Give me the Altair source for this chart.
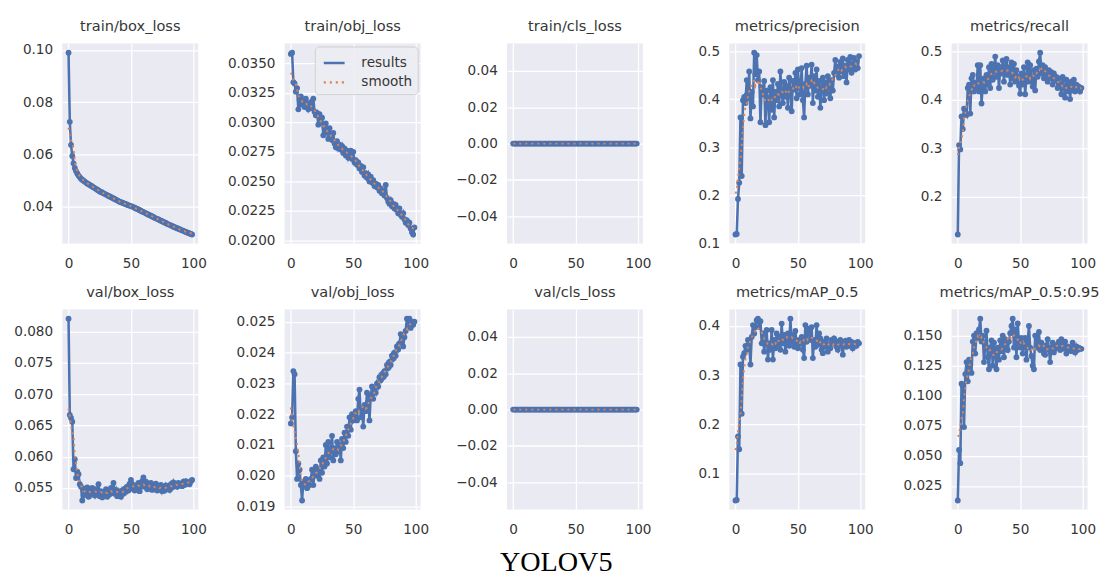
import altair as alt
import pandas as pd

# ---------------- data ----------------
epochs = list(range(100))

train_box_loss = [
    0.0990, 0.0725, 0.0636, 0.0594, 0.0566, 0.0548, 0.0536, 0.0527, 0.0519, 0.0513,
    0.0507, 0.0503, 0.0499, 0.0496, 0.0492, 0.0489, 0.0486, 0.0483, 0.0480, 0.0477,
    0.0474, 0.0471, 0.0468, 0.0465, 0.0462, 0.0458, 0.0456, 0.0454, 0.0451, 0.0449,
    0.0446, 0.0444, 0.0441, 0.0439, 0.0436, 0.0434, 0.0431, 0.0429, 0.0426, 0.0424,
    0.0421, 0.0419, 0.0417, 0.0415, 0.0413, 0.0411, 0.0409, 0.0407, 0.0405, 0.0404,
    0.0402, 0.0400, 0.0398, 0.0396, 0.0393, 0.0391, 0.0389, 0.0386, 0.0384, 0.0381,
    0.0379, 0.0377, 0.0374, 0.0372, 0.0369, 0.0367, 0.0365, 0.0362, 0.0360, 0.0357,
    0.0355, 0.0353, 0.0351, 0.0348, 0.0346, 0.0344, 0.0341, 0.0339, 0.0337, 0.0334,
    0.0332, 0.0330, 0.0328, 0.0326, 0.0323, 0.0321, 0.0319, 0.0317, 0.0315, 0.0313,
    0.0311, 0.0309, 0.0307, 0.0305, 0.0303, 0.0301, 0.0299, 0.0297, 0.0295, 0.0293,
]

train_obj_loss = [
    0.0358, 0.0359, 0.0334, 0.0333, 0.0326, 0.0329, 0.0311, 0.0319, 0.0322, 0.0315,
    0.0318, 0.0313, 0.0320, 0.0316, 0.0311, 0.0314, 0.0317, 0.0312, 0.0320, 0.0309,
    0.0306, 0.0308, 0.0298, 0.0307, 0.0300, 0.0304, 0.0289, 0.0296, 0.0299, 0.0292,
    0.0286, 0.0295, 0.0289, 0.0285, 0.0291, 0.0282, 0.0279, 0.0284, 0.0278, 0.0281,
    0.0277, 0.0280, 0.0274, 0.0278, 0.0272, 0.0276, 0.0270, 0.0273, 0.0276, 0.0269,
    0.0275, 0.0266, 0.0268, 0.0264, 0.0266, 0.0261, 0.0263, 0.0258, 0.0262, 0.0255,
    0.0257, 0.0253, 0.0256, 0.0250, 0.0254, 0.0249, 0.0251, 0.0246, 0.0248, 0.0245,
    0.0247, 0.0242, 0.0244, 0.0240, 0.0242, 0.0238, 0.0247, 0.0236, 0.0233, 0.0231,
    0.0234, 0.0229, 0.0231, 0.0227, 0.0230, 0.0226, 0.0223, 0.0227, 0.0222, 0.0220,
    0.0223, 0.0218, 0.0215, 0.0217, 0.0213, 0.0215, 0.0210, 0.0207, 0.0205, 0.0211,
]

train_cls_loss = [0.0] * 100

precision = [
    0.118, 0.119, 0.192, 0.226, 0.362, 0.240, 0.398, 0.405, 0.392, 0.440,
    0.402, 0.458, 0.360, 0.415, 0.385, 0.497, 0.452, 0.492, 0.440, 0.458,
    0.352, 0.425, 0.410, 0.438, 0.346, 0.418, 0.402, 0.352, 0.425, 0.378,
    0.440, 0.362, 0.415, 0.398, 0.432, 0.385, 0.458, 0.410, 0.392, 0.436,
    0.405, 0.428, 0.382, 0.445, 0.418, 0.375, 0.438, 0.420, 0.455, 0.402,
    0.462, 0.425, 0.410, 0.465, 0.398, 0.362, 0.432, 0.470, 0.410, 0.445,
    0.428, 0.472, 0.392, 0.448, 0.418, 0.462, 0.405, 0.438, 0.382, 0.425,
    0.445, 0.398, 0.435, 0.412, 0.448, 0.425, 0.402, 0.440, 0.418, 0.455,
    0.482, 0.452, 0.468, 0.445, 0.478, 0.458, 0.485, 0.448, 0.470, 0.435,
    0.482, 0.462, 0.488, 0.455, 0.472, 0.486, 0.462, 0.478, 0.465, 0.490,
]

recall = [
    0.122, 0.307, 0.298, 0.366, 0.340, 0.382, 0.374, 0.369, 0.425, 0.432,
    0.372, 0.445, 0.452, 0.418, 0.436, 0.425, 0.472, 0.418, 0.472, 0.393,
    0.428, 0.445, 0.418, 0.452, 0.432, 0.468, 0.425, 0.475, 0.442, 0.460,
    0.490, 0.448, 0.472, 0.425, 0.468, 0.455, 0.482, 0.438, 0.470, 0.485,
    0.452, 0.468, 0.432, 0.478, 0.445, 0.475, 0.438, 0.462, 0.448, 0.430,
    0.413, 0.455, 0.432, 0.468, 0.412, 0.448, 0.478, 0.438, 0.472, 0.442,
    0.428, 0.462, 0.420, 0.465, 0.448, 0.480, 0.498, 0.455, 0.472, 0.445,
    0.468, 0.452, 0.438, 0.462, 0.445, 0.458, 0.432, 0.455, 0.440, 0.448,
    0.425, 0.445, 0.432, 0.412, 0.448, 0.428, 0.405, 0.442, 0.418, 0.435,
    0.402, 0.438, 0.420, 0.442, 0.418, 0.432, 0.422, 0.428, 0.418, 0.425,
]

val_box_loss = [
    0.0821, 0.0667, 0.0662, 0.0656, 0.0580, 0.0596, 0.0566, 0.0576, 0.0572, 0.0556,
    0.0552, 0.0530, 0.0538, 0.0549, 0.0541, 0.0551, 0.0536, 0.0546, 0.0540, 0.0550,
    0.0543, 0.0538, 0.0548, 0.0541, 0.0556, 0.0537, 0.0545, 0.0535, 0.0543, 0.0539,
    0.0548, 0.0536, 0.0544, 0.0540, 0.0550, 0.0542, 0.0558, 0.0541, 0.0547, 0.0537,
    0.0545, 0.0540, 0.0536, 0.0546, 0.0541, 0.0549, 0.0544, 0.0552, 0.0546, 0.0557,
    0.0563, 0.0549, 0.0555, 0.0546, 0.0553, 0.0548, 0.0558, 0.0545, 0.0552, 0.0561,
    0.0567, 0.0552, 0.0560, 0.0548, 0.0556, 0.0550, 0.0558, 0.0547, 0.0554, 0.0549,
    0.0557, 0.0546, 0.0553, 0.0548, 0.0555, 0.0545, 0.0551, 0.0546, 0.0554, 0.0549,
    0.0552, 0.0547, 0.0556, 0.0551, 0.0559, 0.0553, 0.0557, 0.0552, 0.0558, 0.0554,
    0.0556, 0.0553, 0.0560, 0.0555, 0.0561, 0.0557, 0.0559, 0.0556, 0.0561, 0.0563,
]

val_obj_loss = [
    0.0217, 0.0219, 0.0234, 0.0233, 0.0208, 0.0199, 0.0204, 0.0202, 0.0197, 0.0192,
    0.0198, 0.0197, 0.0199, 0.0196, 0.0198, 0.0197, 0.0199, 0.0202, 0.0197, 0.0201,
    0.0203, 0.0200, 0.0202, 0.0199, 0.0205, 0.0201, 0.0206, 0.0203, 0.0210, 0.0204,
    0.0211, 0.0206, 0.0208, 0.0213, 0.0205, 0.0209, 0.0207, 0.0211, 0.0208, 0.0210,
    0.0205, 0.0212, 0.0209, 0.0214, 0.0211, 0.0216, 0.0213, 0.0219, 0.0215, 0.0220,
    0.0218, 0.0219, 0.0221, 0.0218, 0.0225, 0.0228, 0.0219, 0.0222, 0.0216, 0.0223,
    0.0221, 0.0227, 0.0224, 0.0218, 0.0226, 0.0229, 0.0225, 0.0228, 0.0227, 0.0230,
    0.0229, 0.0232, 0.0231, 0.0233, 0.0232, 0.0234, 0.0233, 0.0236, 0.0235, 0.0237,
    0.0236, 0.0239, 0.0238, 0.0240, 0.0239, 0.0242, 0.0241, 0.0243, 0.0246, 0.0244,
    0.0242, 0.0245, 0.0247, 0.0251, 0.0249, 0.0251, 0.0248, 0.0250, 0.0249, 0.0250,
]

val_cls_loss = [0.0] * 100

map_05 = [
    0.046, 0.047, 0.176, 0.150, 0.322, 0.222, 0.338, 0.345, 0.360, 0.352,
    0.372, 0.365, 0.322, 0.378, 0.402, 0.385, 0.398, 0.412, 0.415, 0.398,
    0.410, 0.365, 0.385, 0.348, 0.372, 0.392, 0.332, 0.365, 0.352, 0.392,
    0.332, 0.372, 0.355, 0.385, 0.362, 0.378, 0.352, 0.405, 0.365, 0.382,
    0.348, 0.375, 0.385, 0.360, 0.415, 0.368, 0.382, 0.358, 0.390, 0.362,
    0.355, 0.372, 0.365, 0.378, 0.352, 0.335, 0.402, 0.368, 0.395, 0.385,
    0.372, 0.398, 0.335, 0.372, 0.358, 0.402, 0.362, 0.385, 0.375, 0.352,
    0.345, 0.368, 0.358, 0.375, 0.348, 0.362, 0.355, 0.372, 0.365, 0.375,
    0.370, 0.358, 0.352, 0.368, 0.372, 0.360, 0.342, 0.365, 0.370, 0.358,
    0.362, 0.372, 0.360, 0.368, 0.355, 0.362, 0.366, 0.360, 0.368, 0.365,
]

map_05_095 = [
    0.013, 0.055, 0.044, 0.110, 0.108, 0.074, 0.118, 0.128, 0.112, 0.130,
    0.126, 0.119, 0.145, 0.150, 0.135, 0.152, 0.148, 0.155, 0.164, 0.145,
    0.150, 0.128, 0.142, 0.154, 0.132, 0.122, 0.140, 0.146, 0.125, 0.144,
    0.136, 0.122, 0.140, 0.130, 0.146, 0.137, 0.150, 0.132, 0.147, 0.140,
    0.138, 0.145, 0.152, 0.158, 0.164, 0.140, 0.155, 0.132, 0.160, 0.145,
    0.140, 0.148, 0.135, 0.142, 0.148, 0.130, 0.145, 0.158, 0.140, 0.133,
    0.125, 0.122, 0.150, 0.140, 0.146, 0.153, 0.138, 0.144, 0.140, 0.135,
    0.134, 0.142, 0.147, 0.138, 0.128, 0.140, 0.144, 0.136, 0.139, 0.142,
    0.140, 0.145, 0.138, 0.147, 0.143, 0.139, 0.145, 0.135, 0.141, 0.138,
    0.140, 0.137, 0.144, 0.139, 0.136, 0.141, 0.138, 0.140, 0.139, 0.139,
]

panel_titles = [
    "train/box_loss", "train/obj_loss", "train/cls_loss", "metrics/precision", "metrics/recall",
    "val/box_loss", "val/obj_loss", "val/cls_loss", "metrics/mAP_0.5", "metrics/mAP_0.5:0.95",
]
panel_series = [
    train_box_loss, train_obj_loss, train_cls_loss, precision, recall,
    val_box_loss, val_obj_loss, val_cls_loss, map_05, map_05_095,
]
panel_yticks = [
    [0.04, 0.06, 0.08, 0.10],
    [0.0200, 0.0225, 0.0250, 0.0275, 0.0300, 0.0325, 0.0350],
    [-0.04, -0.02, 0.0, 0.02, 0.04],
    [0.1, 0.2, 0.3, 0.4, 0.5],
    [0.2, 0.3, 0.4, 0.5],
    [0.055, 0.060, 0.065, 0.070, 0.075, 0.080],
    [0.019, 0.020, 0.021, 0.022, 0.023, 0.024, 0.025],
    [-0.04, -0.02, 0.0, 0.02, 0.04],
    [0.1, 0.2, 0.3, 0.4],
    [0.025, 0.050, 0.075, 0.100, 0.125, 0.150],
]
panel_formats = [".2f", ".4f", ".2f", ".1f", ".1f", ".3f", ".3f", ".2f", ".1f", ".3f"]
x_ticks = [0, 50, 100]
series_names = ["results", "smooth"]

# ---------------- style ----------------
BLUE = "#4C72B0"
ORANGE = "#DD8452"
BG = "#EAEAF2"
TXT = "#363636"
FONT = "DejaVu Sans"
W, H = 140, 206


def padded(vals):
    lo, hi = min(vals), max(vals)
    if hi == lo:
        lo, hi = lo - 0.05, hi + 0.05
    m = (hi - lo) * 0.05
    return [lo - m, hi + m]


def panel(idx, extent, with_legend=False):
    df = pd.DataFrame({"epoch": epochs, "results": panel_series[idx]})
    x = alt.X("epoch:Q",
              scale=alt.Scale(domain=padded(epochs), nice=False, zero=False),
              axis=alt.Axis(values=x_ticks, format="d", title=None))
    y = alt.Y("val:Q",
              scale=alt.Scale(domain=padded(panel_series[idx]), nice=False, zero=False),
              axis=alt.Axis(values=panel_yticks[idx], format=panel_formats[idx], title=None,
                            minExtent=extent, maxExtent=extent))
    if with_legend:
        leg = alt.Legend(
            orient="top-right", title=None, offset=3, padding=5,
            fillColor="rgba(236,236,243,0.9)", strokeColor="#cfcfcf",
            cornerRadius=4, labelFontSize=14, labelFont=FONT, labelColor=TXT,
            symbolType="stroke", symbolSize=460, symbolStrokeWidth=2.4,
            rowPadding=1, labelOffset=16, symbolOffset=3,
        )
    else:
        leg = None
    color = alt.Color("series:N", scale=alt.Scale(domain=series_names, range=[BLUE, ORANGE]),
                      legend=leg)
    dash = alt.StrokeDash("series:N",
                          scale=alt.Scale(domain=series_names, range=[[1, 0], [2.2, 4]]),
                          legend=leg)

    base = (alt.Chart(df)
            .transform_window(smooth="mean(results)", frame=[-4, 4], sort=[alt.SortField("epoch")])
            .transform_fold(series_names, as_=["series", "val"]))
    res = base.transform_filter("datum.series === 'results'")
    smo = base.transform_filter("datum.series === 'smooth'")

    line = res.mark_line(strokeWidth=2.6).encode(x=x, y=y, color=color, strokeDash=dash)
    pts = res.mark_point(filled=True, size=36, opacity=1, color=BLUE).encode(x=x, y=y)
    sm = smo.mark_line(strokeWidth=2.0).encode(x=x, y=y, color=color, strokeDash=dash)

    return alt.layer(line, pts, sm).properties(
        width=W, height=H,
        title=alt.TitleParams(panel_titles[idx], fontSize=15, font=FONT, fontWeight="normal",
                              color=TXT, anchor="middle", offset=10),
    )


def row(start):
    charts = []
    for k in range(5):
        i = start + k
        charts.append(panel(i, 51 if k == 0 else 60, with_legend=(i == 1)))
    return (alt.hconcat(*charts, spacing=20)
            .resolve_scale(color="independent", strokeDash="independent")
            .resolve_legend(color="independent", strokeDash="independent"))


chart = (
    alt.vconcat(row(0), row(5), spacing=15)
    .resolve_scale(color="independent", strokeDash="independent")
    .resolve_legend(color="independent", strokeDash="independent")
    .properties(
        title=alt.TitleParams("YOLOV5", orient="bottom", anchor="middle", font="Liberation Serif",
                              fontSize=29, fontWeight="normal", color="black", offset=12),
        padding={"left": 5, "top": 2, "right": 5, "bottom": 0},
        background="white",
    )
    .configure_view(fill=BG, strokeWidth=0)
    .configure_axis(grid=True, gridColor="white", gridWidth=1.3, domain=False, ticks=False,
                    labelFont=FONT, labelFontSize=14, labelColor=TXT)
    .configure_axisX(labelPadding=14)
    .configure_axisY(labelPadding=10)
)

chart.save("out.html", embed_options={"renderer": "svg", "actions": False})
